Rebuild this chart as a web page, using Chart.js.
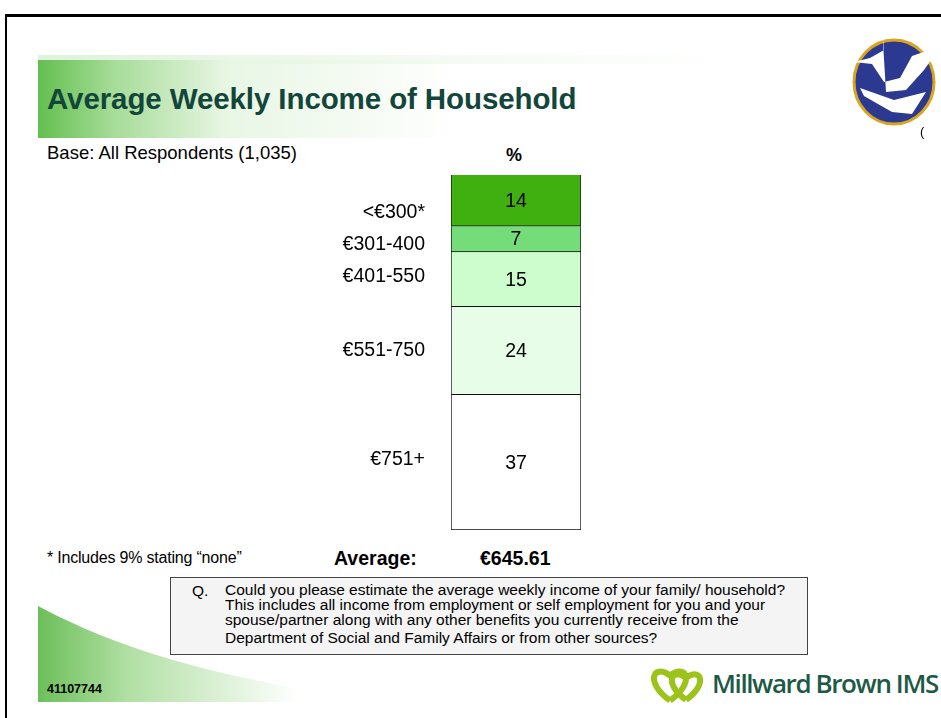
<!DOCTYPE html>
<html>
<head>
<meta charset="utf-8">
<script src="https://cdn.jsdelivr.net/npm/chart.js@4"></script>
<style>
    body { margin: 0; width: 941px; height: 718px; overflow: hidden; background: #fff; font-family: "Liberation Sans", Arial, sans-serif; position: relative; }
    .frame { position: absolute; left: 5px; top: 14px; width: 960px; height: 720px; border-top: 3px solid #000; border-left: 2px solid #000; }
    .banner { position: absolute; left: 38px; top: 60px; width: 420px; height: 78px;
        background: linear-gradient(90deg, #63bf4f 0%, #a6dc98 18%, #e8f6e4 45%, rgba(255,255,255,0) 100%); }
    .bannerTop { position: absolute; left: 38px; top: 55px; width: 700px; height: 9px;
        background: linear-gradient(90deg, rgba(200,235,195,0.6), rgba(235,247,232,0.5) 60%, rgba(255,255,255,0)); }
    .swoosh { position: absolute; left: 38px; top: 598px; width: 260px; height: 104px;
        background: linear-gradient(90deg, #5cb847 0%, #a9dc9a 35%, rgba(255,255,255,0) 100%);
        clip-path: path('M0 8 C 60 40, 140 70, 260 90 L 260 104 L 0 104 Z'); opacity: 0.9; }
    .title { position: absolute; left: 47px; top: 82px; font-size: 29.5px; font-weight: bold; color: #12463a; white-space: nowrap; letter-spacing: -0.1px; }
    .base { position: absolute; left: 47px; top: 142px; font-size: 18.5px; color: #000; }
    .pct { position: absolute; left: 506px; top: 145px; font-size: 18px; font-weight: bold; }
    .note { position: absolute; left: 47px; top: 549px; font-size: 16px; letter-spacing: -0.2px; }
    .avgLabel { position: absolute; left: 334px; top: 547px; font-size: 19.5px; font-weight: bold; }
    .avgValue { position: absolute; left: 480px; top: 547px; font-size: 19.5px; font-weight: bold; }
    .qbox { position: absolute; left: 170px; top: 577px; width: 636px; height: 76px; background: #f4f4f4; border: 1px solid #444; }
    .qbox .q { position: absolute; left: 21px; top: 4px; font-size: 15.5px; }
    .qbox .txt { position: absolute; left: 54px; top: 4px; font-size: 15.5px; line-height: 15px; white-space: nowrap; }
    .code { position: absolute; left: 47px; top: 682px; font-size: 12.5px; font-weight: bold; }
    .mb { position: absolute; left: 712px; top: 665px; font-size: 26px; font-weight: 600; color: #1d5a45; font-family: "Open Sans", sans-serif; letter-spacing: -1.4px; white-space: nowrap; }
    #chart { position: absolute; left: 0; top: 0; }
    #logo { position: absolute; left: 820px; top: 20px; }
</style>
</head>
<body>
<div class="frame"></div>
<div class="bannerTop"></div>
<div class="banner"></div>
<div class="swoosh"></div>
<div class="title">Average Weekly Income of Household</div>
<div class="base">Base: All Respondents (1,035)</div>
<div class="pct">%</div>
<div class="note">* Includes 9% stating “none”</div>
<div class="avgLabel">Average:</div>
<div class="avgValue">€645.61</div>
<div class="qbox">
    <div class="q">Q.</div>
    <div class="txt">Could you please estimate the average weekly income of your family/ household?<br>This includes all income from employment or self employment for you and your<br>spouse/partner along with any other benefits you currently receive from the<br><span style="line-height:21px">Department of Social and Family Affairs or from other sources?</span></div>
</div>
<div class="code">41107744</div>
<canvas id="logo" width="121" height="110"></canvas>
<canvas id="mbLogo" width="70" height="50" style="position:absolute;left:642px;top:656px"></canvas>
<div class="mb">Millward Brown IMS</div>
<div style="position:absolute;left:920px;top:124px;font-size:13px">(</div>
<canvas id="chart" width="941" height="718"></canvas>

<script>
// Income bands, top to bottom
const bands = ['<€300*', '€301-400', '€401-550', '€551-750', '€751+'];
const shares = [14, 7, 15, 24, 37];
const bandColors = ['#40b010', '#74dc78', '#cdfccd', '#e8fde8', '#ffffff'];
// small vertical nudges for the band labels (px)
const labelNudge = [12, 6, -3, 0, -3];

const segmentLabels = {
    id: 'segmentLabels',
    afterDatasetsDraw(chart) {
        const ctx = chart.ctx;
        ctx.save();
        ctx.fillStyle = '#000';
        ctx.textBaseline = 'middle';
        ctx.font = '19.5px "Liberation Sans", Arial, sans-serif';
        chart.data.datasets.forEach((ds, i) => {
            const bar = chart.getDatasetMeta(i).data[0];
            const mid = (bar.y + bar.base) / 2;
            ctx.textAlign = 'center';
            ctx.fillText(String(ds.data[0]), bar.x, mid + 1);
            ctx.textAlign = 'right';
            ctx.fillText(ds.label, 425, mid + labelNudge[i]);
        });
        ctx.restore();
    }
};

new Chart(document.getElementById('chart'), {
    type: 'bar',
    data: {
        labels: ['All'],
        datasets: bands.map((b, i) => ({
            label: b,
            data: [shares[i]],
            backgroundColor: bandColors[i],
            borderColor: '#111',
            borderWidth: 1,
            barPercentage: 1,
            categoryPercentage: 1
        }))
    },
    options: {
        responsive: false,
        animation: false,
        events: [],
        layout: { padding: { left: 451, right: 360, top: 175, bottom: 188 } },
        plugins: { legend: { display: false }, tooltip: { enabled: false } },
        scales: {
            x: { stacked: true, display: false },
            y: { stacked: true, display: false, reverse: true, min: 0, max: 97 }
        }
    },
    plugins: [segmentLabels]
});

// Dove logo (top right)
(function() {
    const c = document.getElementById('logo').getContext('2d');
    c.beginPath();
    c.ellipse(74, 62, 40, 42, 0, 0, Math.PI * 2);
    c.fillStyle = '#2b3990';
    c.fill();
    c.lineWidth = 3;
    c.strokeStyle = '#d9a420';
    c.stroke();
    c.fillStyle = '#fff';
    c.beginPath();
    c.moveTo(62, 6); c.lineTo(64, 30); c.lineTo(50, 38); c.lineTo(34, 42); c.lineTo(52, 44);
    c.lineTo(64, 62); c.lineTo(80, 58); c.lineTo(92, 36); c.lineTo(121, 26);
    c.lineTo(104, 50); c.lineTo(86, 70); c.lineTo(66, 72); c.closePath();
    c.fill();
    c.beginPath();
    c.moveTo(40, 68); c.lineTo(74, 80); c.lineTo(106, 72); c.lineTo(92, 94);
    c.lineTo(72, 92); c.lineTo(44, 76); c.closePath();
    c.fill();
})();

// Millward Brown hearts
(function() {
    const c = document.getElementById('mbLogo').getContext('2d');
    c.strokeStyle = '#9cc31a';
    c.lineWidth = 6;
    function heart(x, y, s) {
        c.beginPath();
        c.moveTo(x, y + s * 0.9);
        c.bezierCurveTo(x - s, y + s * 0.2, x - s * 0.7, y - s * 0.6, x, y - s * 0.1);
        c.bezierCurveTo(x + s * 0.7, y - s * 0.6, x + s, y + s * 0.2, x, y + s * 0.9);
        c.stroke();
    }
    heart(28, 22, 25);
    heart(44, 24, 22);
})();
</script>
</body>
</html>
